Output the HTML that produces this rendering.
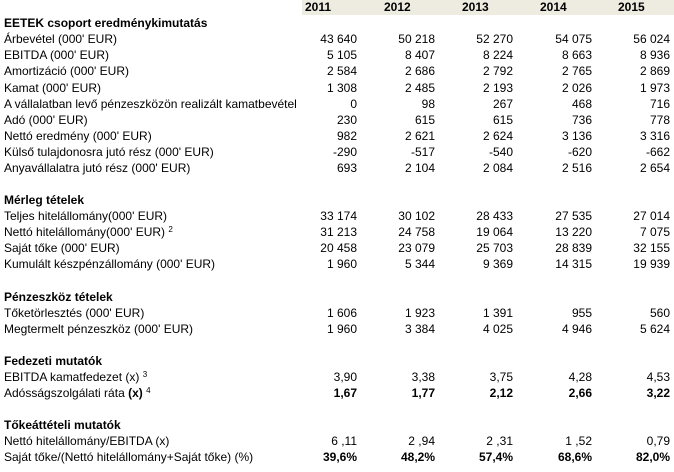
<!DOCTYPE html>
<html><head><meta charset="utf-8">
<style>
html,body{margin:0;padding:0;background:#fff;}
body{width:674px;height:472px;position:relative;overflow:hidden;font-family:"Liberation Sans",Arial,sans-serif;font-size:12px;color:#000;}
.band{position:absolute;left:302px;top:0;width:372px;height:15px;background:#eeece1;}
.t{position:absolute;white-space:nowrap;line-height:14px;}
.b{font-weight:bold;}
.v{position:absolute;white-space:nowrap;line-height:14px;text-align:right;width:70px;}
sup{font-size:8px;vertical-align:4px;line-height:0;}
</style></head><body>
<div class="band"></div>
<div class="t b" style="left:305px;top:0">2011</div>
<div class="t b" style="left:384px;top:0">2012</div>
<div class="t b" style="left:462px;top:0">2013</div>
<div class="t b" style="left:540px;top:0">2014</div>
<div class="t b" style="left:618px;top:0">2015</div>

<div id="rows"></div>
<script>
var rows=[
[23,"<b>EETEK csoport eredménykimutatás</b>",null],
[39,"Árbevétel (000' EUR)",["43 640","50 218","52 270","54 075","56 024"]],
[55,"EBITDA (000' EUR)",["5 105","8 407","8 224","8 663","8 936"]],
[71,"Amortizáció (000' EUR)",["2 584","2 686","2 792","2 765","2 869"]],
[88,"Kamat (000' EUR)",["1 308","2 485","2 193","2 026","1 973"]],
[104,"A vállalatban levő pénzeszközön realizált kamatbevétel",["0","98","267","468","716"]],
[120,"Adó (000' EUR)",["230","615","615","736","778"]],
[136,"Nettó eredmény (000' EUR)",["982","2 621","2 624","3 136","3 316"]],
[152,"Külső tulajdonosra jutó rész (000' EUR)",["-290","-517","-540","-620","-662"]],
[168,"Anyavállalatra jutó rész (000' EUR)",["693","2 104","2 084","2 516","2 654"]],
[200,"<b>Mérleg tételek</b>",null],
[216,"Teljes hitelállomány(000' EUR)",["33 174","30 102","28 433","27 535","27 014"]],
[232,"Nettó hitelállomány(000' EUR) <sup>2</sup>",["31 213","24 758","19 064","13 220","7 075"]],
[248,"Saját tőke (000' EUR)",["20 458","23 079","25 703","28 839","32 155"]],
[264,"Kumulált készpénzállomány (000' EUR)",["1 960","5 344","9 369","14 315","19 939"]],
[297,"<b>Pénzeszköz tételek</b>",null],
[313,"Tőketörlesztés (000' EUR)",["1 606","1 923","1 391","955","560"]],
[329,"Megtermelt pénzeszköz (000' EUR)",["1 960","3 384","4 025","4 946","5 624"]],
[361,"<b>Fedezeti mutatók</b>",null],
[377,"EBITDA kamatfedezet (x) <sup>3</sup>",["3,90","3,38","3,75","4,28","4,53"]],
[393,"Adósságszolgálati ráta <b>(x)</b> <sup>4</sup>",["1,67","1,77","2,12","2,66","3,22"],1],
[425,"<b>Tőkeáttételi mutatók</b>",null],
[441,"Nettó hitelállomány/EBITDA (x)",["6 ,11","2 ,94","2 ,31","1 ,52","0,79"]],
[457,"Saját tőke/(Nettó hitelállomány+Saját tőke) (%)",["39,6%","48,2%","57,4%","68,6%","82,0%"],1]
];
var R=[357,435,513,592,670];
var h="";
rows.forEach(function(r){
  var top=r[0]-7;
  h+='<div class="t" style="left:4px;top:'+top+'px">'+r[1]+'</div>';
  if(r[2]) r[2].forEach(function(v,i){
    h+='<div class="v'+(r[3]?' b':'')+'" style="left:'+(R[i]-70)+'px;top:'+top+'px">'+v+'</div>';
  });
});
document.getElementById('rows').innerHTML=h;
</script>
</body></html>
